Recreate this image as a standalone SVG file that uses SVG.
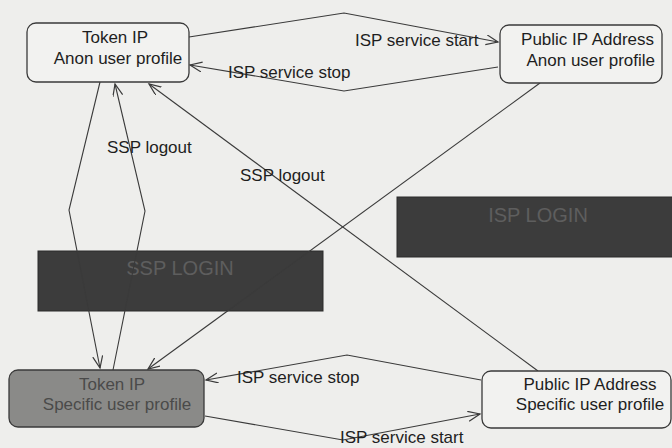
<svg xmlns="http://www.w3.org/2000/svg" width="672" height="448" viewBox="0 0 672 448">
<defs>
<marker id="arr" markerUnits="userSpaceOnUse" markerWidth="14" markerHeight="12" refX="12" refY="5" orient="auto">
<path d="M0,0 L12,5 L0,10" fill="none" stroke="#3a3a3a" stroke-width="1.2"/>
</marker>
<style>
.bg{fill:#eeeeec}
.node{fill:#f2f2f0;stroke:#3a3a3a;stroke-width:1.3}
.nodeg{fill:#8a8a88;stroke:#3a3a3a;stroke-width:1.3}
.bar{fill:#3c3c3c;stroke:#2a2a2a;stroke-width:1}
.t{font-family:"Liberation Sans",Arial,sans-serif;font-size:17px;fill:#1e1e1e}
.tg{font-family:"Liberation Sans",Arial,sans-serif;font-size:17px;fill:#4a4a4a}
.tb{font-family:"Liberation Sans",Arial,sans-serif;font-size:20px;fill:#5e5e5e;text-anchor:middle}
.c{fill:none;stroke:#3a3a3a;stroke-width:1.1;marker-end:url(#arr)}
.lbl{font-family:"Liberation Sans",Arial,sans-serif;font-size:17px;fill:#1e1e1e}
</style>
</defs>
<rect class="bg" x="0" y="0" width="672" height="448"/>

<g id="ssp-login">
<rect class="bar" x="38" y="251" width="285" height="60"/>
<text class="tb" x="180" y="275">SSP LOGIN</text>
</g>
<g id="isp-login">
<rect class="bar" x="397" y="197" width="276" height="60"/>
<text class="tb" x="538" y="222">ISP LOGIN</text>
</g>

<g id="connectors">
<polyline class="c" points="189,37 344,13 498,42"/>
<polyline class="c" points="498,67 344,91 190,65"/>
<polyline class="c" points="100,82 69,210 100,368"/>
<polyline class="c" points="113,370 145,211 115,84"/>
<line class="c" x1="540" y1="83" x2="148" y2="369"/>
<line class="c" x1="538" y1="371" x2="149" y2="84"/>
<polyline class="c" points="481,380 347,355 206,380"/>
<polyline class="c" points="205,416 343,440 480,414"/>
</g>

<g id="labels">
<text class="lbl" x="355" y="46">ISP service start</text>
<text class="lbl" x="228" y="78">ISP service stop</text>
<text class="lbl" x="107" y="153">SSP logout</text>
<text class="lbl" x="240" y="181">SSP logout</text>
<text class="lbl" x="237" y="383">ISP service stop</text>
<text class="lbl" x="340" y="443">ISP service start</text>
</g>

<g id="token-anon">
<rect class="node" x="27" y="23" width="162" height="59" rx="9"/>
<text class="t" x="115" y="43" text-anchor="middle">Token IP</text>
<text class="t" x="118" y="64" text-anchor="middle">Anon user profile</text>
</g>
<g id="public-anon">
<rect class="node" x="500" y="25" width="162" height="58" rx="9"/>
<text class="t" x="654" y="45" text-anchor="end">Public IP Address</text>
<text class="t" x="655" y="66" text-anchor="end">Anon user profile</text>
</g>
<g id="token-specific">
<rect class="nodeg" x="9" y="370" width="195" height="57" rx="9"/>
<text class="tg" x="112" y="390" text-anchor="middle">Token IP</text>
<text class="tg" x="117" y="410" text-anchor="middle">Specific user profile</text>
</g>
<g id="public-specific">
<rect class="node" x="482" y="371" width="189" height="57" rx="9"/>
<text class="t" x="590" y="390" text-anchor="middle">Public IP Address</text>
<text class="t" x="590" y="410" text-anchor="middle">Specific user profile</text>
</g>
</svg>
